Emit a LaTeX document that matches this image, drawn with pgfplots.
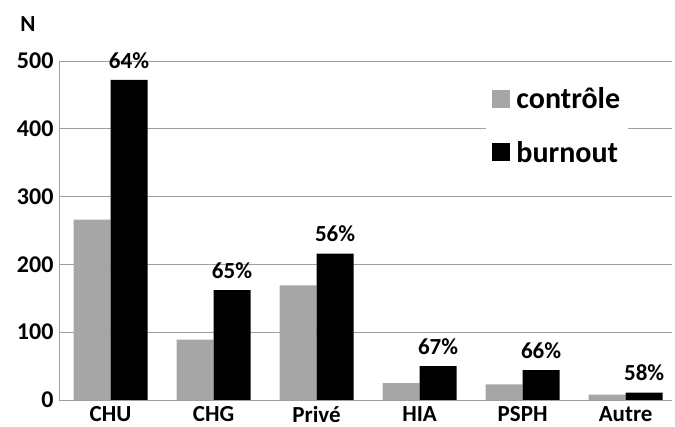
\documentclass[border=0pt]{standalone}
\usepackage{pgfplots}
\pgfplotsset{compat=1.18}
\usepackage{fontspec}
\setmainfont{Carlito}
\definecolor{ctrlgray}{HTML}{A6A6A6}
\definecolor{gridgray}{HTML}{A0A0A0}
\begin{document}
\begin{tikzpicture}
\begin{axis}[
  scale only axis,
  width=613pt, height=339pt,
  xmin=-0.5, xmax=5.45,
  ymin=0, ymax=500,
  ytick={0,100,...,500},
  xtick={0,1,2,3,4,5},
  xticklabels={CHU,CHG,Privé,HIA,PSPH,Autre},
  ymajorgrids,
  grid style={gridgray, line width=0.8pt},
  axis x line*=bottom, axis y line*=left,
  axis line style={gridgray, line width=0.8pt},
  x axis line style={-}, y axis line style={-},
  major tick length=0pt,
  tick style={draw=none},
  /pgf/number format/assume math mode=true,
  ticklabel style={font=\fontsize{23}{26}\selectfont\bfseries},
  yticklabel style={xshift=-2pt, font=\fontsize{24}{26}\selectfont\bfseries},
  xticklabel style={yshift=-3pt},
  ybar=0pt, bar width=37pt,
  clip=false,
  legend cell align=left,
  legend style={at={(0.697,0.94)}, anchor=north west, draw=none, fill=white,
    font=\fontsize{30}{33}\selectfont\bfseries,
    row sep=27pt, inner xsep=6pt, inner ysep=4pt},
  legend image code/.code={\fill[#1] (0pt,-9pt) rectangle (18pt,9pt); \path (22pt,0pt);},
]
\addplot[fill=ctrlgray, draw=none] coordinates
  {(0,266) (1,89) (2,169) (3,25) (4,23) (5,8)};
\addlegendentry{contrôle}
\addplot[fill=black, draw=none,
  point meta=explicit symbolic,
  nodes near coords,
  nodes near coords style={font=\fontsize{23}{26}\selectfont\bfseries, black, yshift=8pt}]
  coordinates
  {(0,472)[64\%] (1,162)[65\%] (2,216)[56\%] (3,50)[67\%] (4,44)[66\%] (5,11)[58\%]};
\addlegendentry{burnout}
\node[font=\fontsize{23}{26}\selectfont\bfseries, anchor=center] at ([xshift=-31pt,yshift=37pt]current axis.north west) {N};
\end{axis}
\path ([xshift=-59pt,yshift=-27pt]current axis.south west) ([xshift=3pt,yshift=61pt]current axis.north east);
\end{tikzpicture}
\end{document}
